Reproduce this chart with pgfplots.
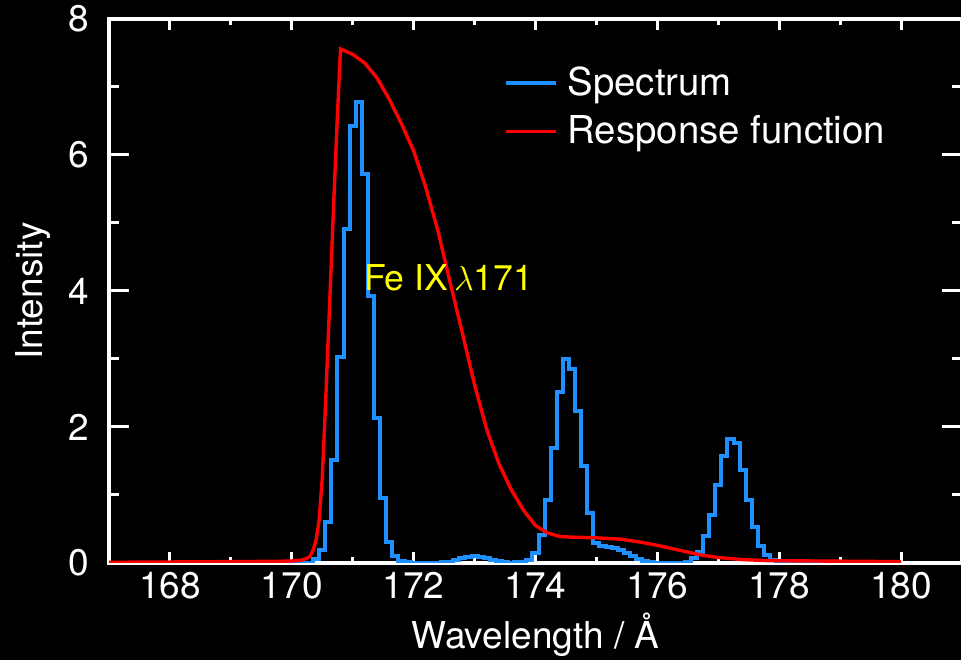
\documentclass[border=0pt]{standalone}
\usepackage{fontspec}
\setmainfont{TeX Gyre Heros}
\usepackage{pgfplots}
\pgfplotsset{compat=1.18}
\usetikzlibrary{backgrounds}
\definecolor{specblue}{RGB}{30,144,255}
\definecolor{respred}{RGB}{255,0,0}
\definecolor{lblyellow}{RGB}{255,255,0}

\begin{document}
\begin{tikzpicture}[font=\fontsize{18.5}{22}\selectfont]
\begin{axis}[
  scale only axis, width=426.5pt, height=272pt,
  xmin=167, xmax=181, ymin=0, ymax=8,
  xtick={168,170,...,180}, ytick={0,2,...,8},
  minor x tick num=1, minor y tick num=1,
  tick align=inside,
  axis line style={white, line width=1.6pt},
  tick style={white, line width=1.5pt},
  xtick style={/pgfplots/major tick length=5.5pt, /pgfplots/minor tick length=3pt},
  ytick style={/pgfplots/major tick length=10pt, /pgfplots/minor tick length=5pt},
  /pgf/number format/assume math mode=true,
  tick label style={text=white},
  yticklabel style={xshift=-6.5pt},
  xticklabel style={yshift=-1pt},
  label style={text=white},
  xlabel={Wavelength / Å},
  ylabel={Intensity},
  x label style={at={(axis description cs:0.5,-0.158)}, anchor=base},
  y label style={at={(axis description cs:-0.0785,0.5)}, anchor=base},
  legend cell align=left,
  legend style={draw=none, fill=none, text=white,
    font=\fontsize{19.2}{23}\selectfont,
    at={(rel axis cs:0.455,0.927)}, anchor=north west, row sep=4.5pt,
    /tikz/every odd column/.append style={column sep=3pt}},
  legend image code/.code={\draw[#1] (0pt,0pt) -- (25pt,0pt);},
]
\addplot[const plot mark mid, specblue, line width=2pt] table {
x y
167.0 0
170.3 0
170.4 0.06
170.5 0.19
170.6 0.60
170.7 1.51
170.8 3.03
170.9 4.91
171.0 6.43
171.1 6.78
171.2 5.72
171.3 3.93
171.4 2.13
171.5 0.95
171.6 0.31
171.7 0.11
171.8 0.03
171.9 0.01
172.0 0
172.4 0.005
172.5 0.01
172.6 0.02
172.7 0.04
172.8 0.07
172.9 0.09
173.0 0.10
173.1 0.09
173.2 0.07
173.3 0.045
173.4 0.025
173.5 0.01
173.6 0.005
173.7 0.01
173.8 0.02
173.9 0.04
174.0 0.15
174.1 0.41
174.2 0.92
174.3 1.69
174.4 2.51
174.5 3.00
174.6 2.86
174.7 2.23
174.8 1.42
174.9 0.73
175.0 0.30
175.1 0.25
175.2 0.24
175.3 0.22
175.4 0.19
175.5 0.15
175.6 0.10
175.7 0.06
175.8 0.03
175.9 0.01
176.0 0
176.4 0
176.5 0.02
176.6 0.07
176.7 0.16
176.8 0.39
176.9 0.71
177.0 1.14
177.1 1.58
177.2 1.82
177.3 1.76
177.4 1.37
177.5 0.93
177.6 0.53
177.7 0.25
177.8 0.12
177.9 0.04
178.0 0.01
178.1 0
180.0 0
};
\addlegendentry{Spectrum}
\addplot[respred, line width=1.7pt] table {
x y
167.0 0.010
168.0 0.015
169.0 0.020
169.8 0.025
170.0 0.030
170.15 0.04
170.25 0.07
170.30 0.10
170.35 0.19
170.40 0.34
170.45 0.64
170.50 1.25
170.55 2.25
170.60 3.35
170.65 4.45
170.70 5.55
170.75 6.60
170.80 7.56
170.90 7.52
171.00 7.48
171.20 7.35
171.40 7.13
171.60 6.82
171.80 6.46
172.00 6.06
172.20 5.52
172.40 4.88
172.60 4.12
172.80 3.38
173.00 2.62
173.20 1.96
173.40 1.46
173.60 1.08
173.80 0.78
174.00 0.55
174.20 0.44
174.40 0.39
174.60 0.38
175.00 0.37
175.40 0.35
175.70 0.31
176.00 0.26
176.40 0.18
176.70 0.12
177.00 0.08
177.40 0.05
177.80 0.035
178.50 0.03
179.20 0.025
180.00 0.02
};
\addlegendentry{Response function}
\node[anchor=base west, text=lblyellow, inner sep=0pt, font=\fontsize{17.8}{21}\selectfont] at (axis cs:171.18,4.01) {Fe IX\,$\lambda$171};
\coordinate (sw) at (rel axis cs:0,0);
\coordinate (ne) at (rel axis cs:1,1);
\end{axis}
\pgfresetboundingbox
\path[use as bounding box] ([xshift=-54.5pt,yshift=-48.5pt]sw) rectangle ([xshift=-0.5pt,yshift=9.5pt]ne);
\begin{scope}[on background layer]
\fill[black] ([xshift=-54.5pt,yshift=-48.5pt]sw) rectangle ([xshift=-0.5pt,yshift=9.5pt]ne);
\end{scope}
\end{tikzpicture}
\end{document}
